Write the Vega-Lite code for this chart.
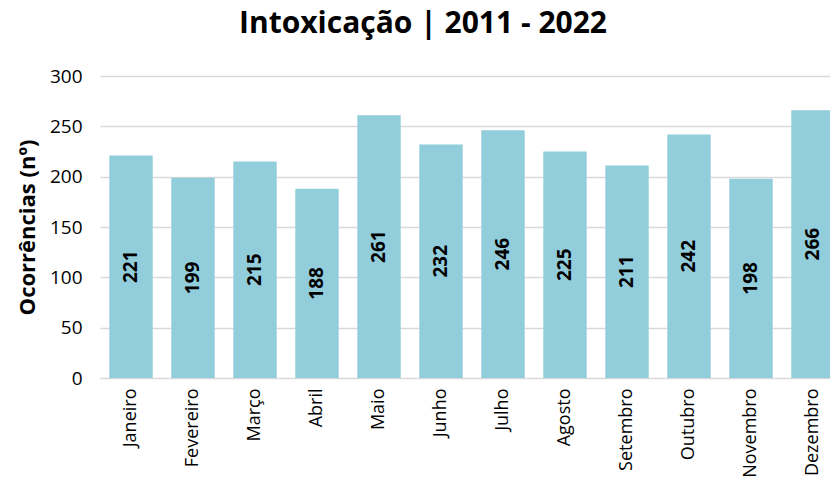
{
  "$schema": "https://vega.github.io/schema/vega-lite/v6.json",
  "width": 744,
  "height": 302,
  "autosize": {"type": "none"},
  "padding": {"left": 100, "top": 76, "right": 0, "bottom": 108},
  "background": "white",
  "config": {
    "view": {"stroke": null},
    "font": "Open Sans"
  },
  "title": {
    "text": "Intoxicação | 2011 - 2022",
    "fontSize": 30,
    "fontWeight": "bold",
    "font": "Open Sans",
    "color": "#000000",
    "anchor": "middle",
    "dx": -49,
    "offset": 28
  },
  "data": {
    "values": [
      {"mes": "Janeiro", "n": 221},
      {"mes": "Fevereiro", "n": 199},
      {"mes": "Março", "n": 215},
      {"mes": "Abril", "n": 188},
      {"mes": "Maio", "n": 261},
      {"mes": "Junho", "n": 232},
      {"mes": "Julho", "n": 246},
      {"mes": "Agosto", "n": 225},
      {"mes": "Setembro", "n": 211},
      {"mes": "Outubro", "n": 242},
      {"mes": "Novembro", "n": 198},
      {"mes": "Dezembro", "n": 266}
    ]
  },
  "encoding": {
    "x": {
      "field": "mes",
      "type": "nominal",
      "sort": null,
      "scale": {"paddingInner": 0.3, "paddingOuter": 0.15},
      "axis": {
        "title": null,
        "labelAngle": -90,
        "labelFontSize": 18,
        "labelColor": "#000000",
        "labelPadding": 10,
        "ticks": false,
        "domainColor": "#d9d9d9",
        "domainWidth": 1
      }
    }
  },
  "layer": [
    {
      "mark": {"type": "bar", "color": "#92CDDC"},
      "encoding": {
        "y": {
          "field": "n",
          "type": "quantitative",
          "scale": {"domain": [0, 300]},
          "axis": {
            "title": "Ocorrências (nº)",
            "titleFontSize": 22,
            "titleFontWeight": "bold",
            "titleColor": "#000000",
            "titlePadding": 10,
            "values": [0, 50, 100, 150, 200, 250, 300],
            "labelFontSize": 19,
            "labelColor": "#000000",
            "labelPadding": 18,
            "ticks": false,
            "domain": false,
            "gridColor": "#d9d9d9",
            "gridWidth": 1.5
          }
        }
      }
    },
    {
      "transform": [{"calculate": "datum.n / 2", "as": "mid"}],
      "mark": {
        "type": "text",
        "angle": 270,
        "fontSize": 19,
        "fontWeight": "bold",
        "color": "#000000",
        "align": "center",
        "baseline": "middle"
      },
      "encoding": {
        "y": {"field": "mid", "type": "quantitative"},
        "text": {"field": "n", "type": "quantitative"}
      }
    }
  ]
}
